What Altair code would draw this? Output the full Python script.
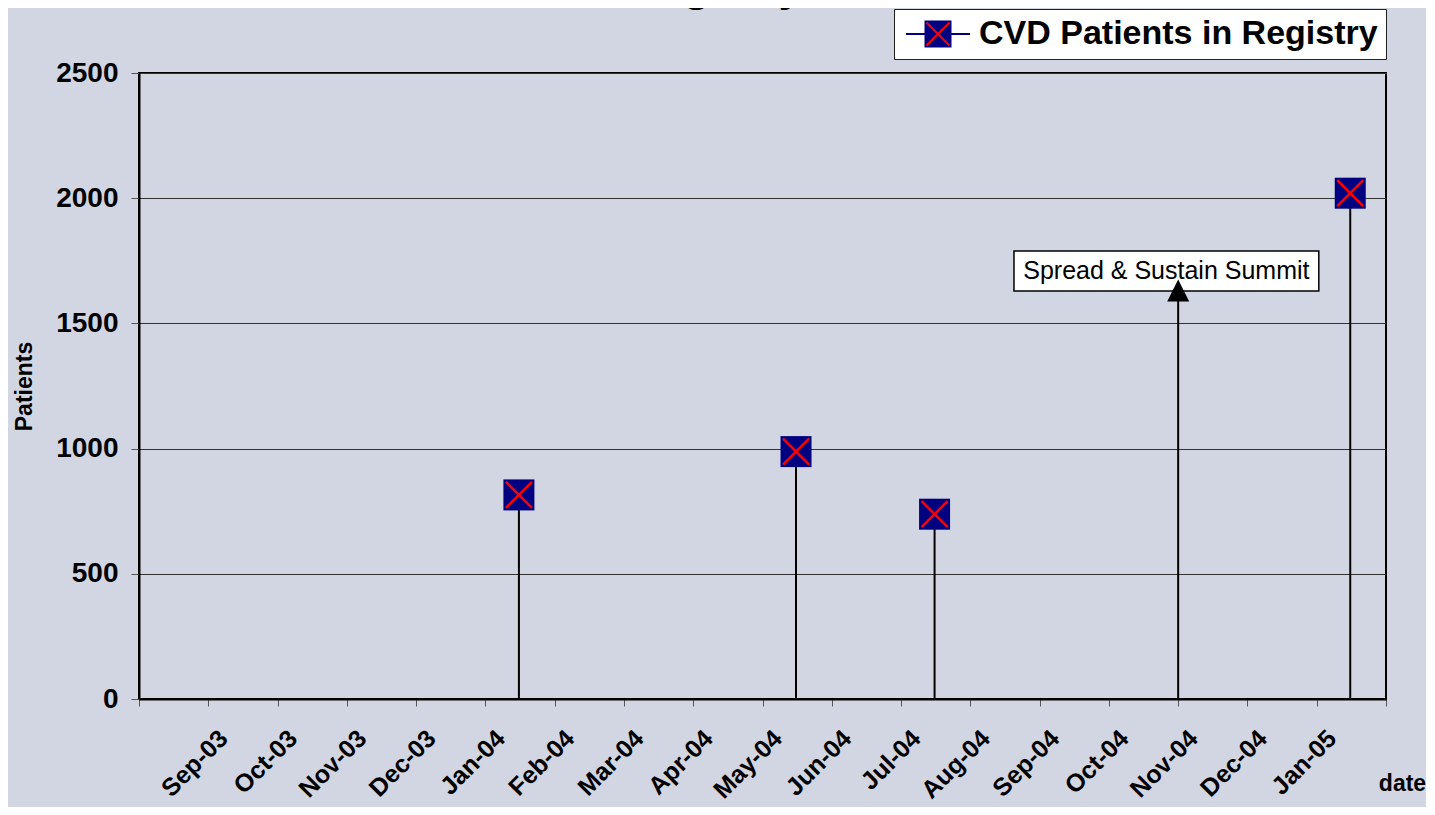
import json
import altair as alt
import pandas as pd

# ---------------- data ----------------
TITLE = "Registry"
SERIES = "CVD Patients in Registry"
AXIS_START = "2003-08-01"          # first (unlabelled) tick of the month axis
N_MONTHS = 18                      # Aug-03 .. Feb-05
MONTH_LABELS = ["Sep-03", "Oct-03", "Nov-03", "Dec-03", "Jan-04", "Feb-04",
                "Mar-04", "Apr-04", "May-04", "Jun-04", "Jul-04", "Aug-04",
                "Sep-04", "Oct-04", "Nov-04", "Dec-04", "Jan-05"]
DATES = ["2004-01-16", "2004-05-16", "2004-07-16", "2005-01-16"]
PATIENTS = [815, 988, 738, 2020]
Y_TICKS = [0, 500, 1000, 1500, 2000, 2500]

EVENT_LABEL = "Spread & Sustain Summit"
EVENT_DATE = "2004-11-01"
EVENT_SHAFT_TOP = 1645
EVENT_HEAD_Y = 1631
EVENT_BOX_MONTHS = [12.63, 17.03]
EVENT_BOX_VALUES = [1629, 1789]

FONT = "Liberation Sans"
NAVY = "#000080"
RED = "#FF0000"
BG = "#D2D6E2"

start = pd.Timestamp(AXIS_START)


def month_pos(s):
    t = pd.Timestamp(s)
    return (t.year - start.year) * 12 + (t.month - start.month) + (t.day - 1) / t.days_in_month


pts = pd.DataFrame({
    "pos": [month_pos(d) for d in DATES],
    "patients": PATIENTS,
    "series": [SERIES] * len(DATES),
    "series_x": [SERIES] * len(DATES),
})
ev_pos = month_pos(EVENT_DATE)
event = pd.DataFrame({
    "pos": [ev_pos],
    "shaft": [EVENT_SHAFT_TOP],
    "head": [EVENT_HEAD_Y],
    "bx1": [EVENT_BOX_MONTHS[0]], "bx2": [EVENT_BOX_MONTHS[1]],
    "by1": [EVENT_BOX_VALUES[0]], "by2": [EVENT_BOX_VALUES[1]],
    "tx": [sum(EVENT_BOX_MONTHS) / 2], "ty": [sum(EVENT_BOX_VALUES) / 2],
    "label": [EVENT_LABEL],
})
title_df = pd.DataFrame({"t": [TITLE]})

# ---------------- scales / axes ----------------
tick_labels = [""] + MONTH_LABELS + [""]
xs = alt.Scale(domain=[0, N_MONTHS], nice=False, zero=False)
ys = alt.Scale(domain=[0, 2500], nice=False, zero=True)

xaxis = alt.Axis(
    values=list(range(N_MONTHS + 1)),
    labelExpr=json.dumps(tick_labels) + "[datum.value]",
    labelAngle=-45, labelAlign="right", labelBaseline="middle",
    labelPadding=28, labelOffset=15, labelOverlap=False, labelFlush=False, labelBound=False,
    labelFont=FONT, labelFontSize=25, labelFontWeight="bold", labelColor="black",
    tickSize=7, tickColor="#555555", tickWidth=1,
    domainColor="black", domainWidth=2, grid=False,
    title="date", titleX=1263, titleY=91, titleAlign="center", titleBaseline="alphabetic",
    titleFont=FONT, titleFontSize=23, titleFontWeight="bold", titleColor="black",
)
yaxis = alt.Axis(
    values=Y_TICKS, format="d",
    labelFont=FONT, labelFontSize=28, labelFontWeight="bold", labelColor="black",
    labelPadding=13, tickSize=8, tickColor="#555555", tickWidth=1,
    domainColor="black", domainWidth=2,
    grid=True, gridColor="#333333", gridWidth=1,
    title="Patients", titleX=-115, titleY=313, titleAngle=-90,
    titleAlign="center", titleBaseline="middle",
    titleFont=FONT, titleFontSize=23, titleFontWeight="bold", titleColor="black",
)


def X(f):
    return alt.X(f, type="quantitative", scale=xs, axis=xaxis)


def Y(f):
    return alt.Y(f, type="quantitative", scale=ys, axis=yaxis)


leg_common = dict(
    orient="none", legendX=755, legendY=-64, direction="vertical", title=None,
    padding=8, symbolSize=625, symbolStrokeWidth=2, symbolOffset=19, labelOffset=24,
    labelFont=FONT, labelFontSize=34, labelFontWeight="bold", labelLimit=0,
)
fill_legend = alt.Legend(
    fillColor="white", strokeColor="#222222",
    symbolType="M-2.56,0H-1M1,0H2.56M-1,-1H1V1H-1Z",
    symbolStrokeColor=NAVY, labelColor="black", **leg_common,
)
x_legend = alt.Legend(
    symbolType="M-0.92,-0.92L0.92,0.92M0.92,-0.92L-0.92,0.92",
    symbolFillColor="transparent", labelOpacity=0, **leg_common,
)

# ---------------- layers ----------------
drops = alt.Chart(pts).mark_rule(color="black", strokeWidth=2).encode(
    x=X("pos"), y=Y("patients"), y2=alt.datum(0))

box = alt.Chart(event).mark_rect(fill="white", stroke="black", strokeWidth=1.5).encode(
    x=X("bx1"), x2="bx2", y=Y("by1"), y2="by2")
box_text = alt.Chart(event).mark_text(
    font=FONT, fontSize=25, color="black", align="center", baseline="middle").encode(
    x=X("tx"), y=Y("ty"), text="label:N")
shaft = alt.Chart(event).mark_rule(color="black", strokeWidth=2).encode(
    x=X("pos"), y=Y("shaft"), y2=alt.datum(0))
head = alt.Chart(event).mark_point(
    shape="M0,-1L1,1L-1,1Z", size=484, filled=True, color="black", opacity=1).encode(
    x=X("pos"), y=Y("head"))

squares = alt.Chart(pts).mark_square(size=961, opacity=1, strokeWidth=0).encode(
    x=X("pos"), y=Y("patients"),
    fill=alt.Fill("series:N", scale=alt.Scale(range=[NAVY]), legend=fill_legend))
crosses = alt.Chart(pts).mark_point(
    shape="M-1,-1L1,1M1,-1L-1,1", size=676, strokeWidth=2.5, filled=False, opacity=1).encode(
    x=X("pos"), y=Y("patients"),
    stroke=alt.Stroke("series_x:N", scale=alt.Scale(range=[RED]), legend=x_legend))

title = alt.Chart(title_df).mark_text(
    font=FONT, fontSize=44, fontWeight="bold", color="black",
    align="center", baseline="alphabetic").encode(
    text="t:N", x=alt.value(576), y=alt.value(-72))

chart = alt.layer(drops, box, box_text, shaft, head, squares, crosses, title).properties(
    width=1247, height=626,
    autosize=alt.AutoSizeParams(type="none"),
    padding={"left": 131, "top": 65, "right": 40, "bottom": 108},
).configure(background=BG).configure_view(stroke="black", strokeWidth=2, fill=BG)

chart.save("out.html", embed_options={"renderer": "svg", "actions": False})
